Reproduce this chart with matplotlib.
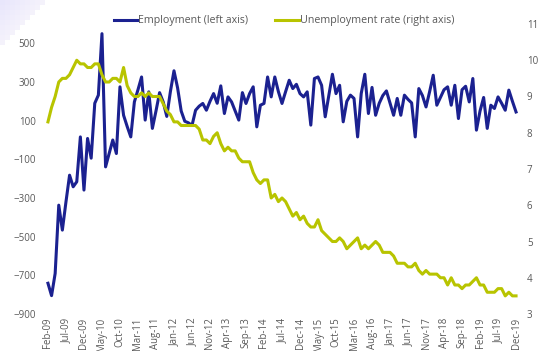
import matplotlib
matplotlib.use("Agg")
import matplotlib.pyplot as plt
import matplotlib.patches as mpatches
from matplotlib.lines import Line2D
import pandas as pd

# monthly, Feb-09 .. Dec-19
months = pd.date_range("2009-02-01", "2019-12-01", freq="MS")
month_labels = [d.strftime("%b-%y") for d in months]

# employment change, thousands (left axis)
employment = [
    -741, -805, -690, -337, -466, -320, -182, -242, -216, 16,
    -259, 8, -94, 190, 232, 550, -139, -70, 0, -70,
    275, 128, 70, 16, 197, 260, 326, 103, 249, 60,
    150, 245, 197, 122, 250, 358, 270, 150, 97, 89,
    75, 154, 175, 189, 154, 200, 240, 190, 280, 137,
    223, 197, 150, 103, 245, 189, 240, 275, 68, 180,
    189, 326, 223, 326, 250, 189, 250, 309, 266, 288,
    240, 223, 249, 77, 318, 326, 283, 120, 230, 340,
    240, 283, 94, 200, 232, 215, 16, 240, 340, 137,
    272, 128, 190, 230, 254, 190, 128, 215, 128, 232,
    210, 192, 16, 266, 230, 171, 250, 335, 180, 220,
    260, 275, 180, 283, 111, 260, 278, 197, 318, 51,
    150, 220, 60, 180, 163, 223, 190, 154, 258, 200,
    145,
]

# unemployment rate, % (right axis)
unemployment = [
    8.3, 8.7, 9.0, 9.4, 9.5, 9.5, 9.6, 9.8, 10.0, 9.9, 9.9,
    9.8, 9.8, 9.9, 9.9, 9.6, 9.4, 9.4, 9.5, 9.5, 9.4, 9.8, 9.3,
    9.1, 9.0, 9.0, 9.1, 9.0, 9.1, 9.0, 9.0, 9.0, 8.8, 8.6, 8.5,
    8.3, 8.3, 8.2, 8.2, 8.2, 8.2, 8.2, 8.1, 7.8, 7.8, 7.7, 7.9,
    8.0, 7.7, 7.5, 7.6, 7.5, 7.5, 7.3, 7.2, 7.2, 7.2, 6.9, 6.7,
    6.6, 6.7, 6.7, 6.2, 6.3, 6.1, 6.2, 6.1, 5.9, 5.7, 5.8, 5.6,
    5.7, 5.5, 5.4, 5.4, 5.6, 5.3, 5.2, 5.1, 5.0, 5.0, 5.1, 5.0,
    4.8, 4.9, 5.0, 5.1, 4.8, 4.9, 4.8, 4.9, 5.0, 4.9, 4.7, 4.7,
    4.7, 4.6, 4.4, 4.4, 4.4, 4.3, 4.3, 4.4, 4.2, 4.1, 4.2, 4.1,
    4.1, 4.1, 4.0, 4.0, 3.8, 4.0, 3.8, 3.8, 3.7, 3.8, 3.8, 3.9,
    4.0, 3.8, 3.8, 3.6, 3.6, 3.6, 3.7, 3.7, 3.5, 3.6, 3.5, 3.5,
]

assert len(employment) == len(months) == len(unemployment)

NAVY = "#1b2190"
LIME = "#b8c400"
GREY = "#595959"
LW = 2.2

plt.rcParams["font.family"] = ["Open Sans", "DejaVu Sans"]

W, H = 539, 351
fig = plt.figure(figsize=(W / 100, H / 100), dpi=100)

# lavender staircase in the top-left corner
step = 5
for row in range(9):
    for col in range(9 - row):
        shade = 0.93 + 0.012 * (row + col) / 2
        fig.patches.append(mpatches.Rectangle(
            (col * step / W, 1 - (row + 1) * step / H), step / W, step / H,
            transform=fig.transFigure, facecolor=(shade - 0.02, shade - 0.03, 0.985),
            edgecolor="none", zorder=0))

ax = fig.add_axes([44 / W, 37 / H, 476 / W, 290 / H])
ax2 = ax.twinx()
x = list(range(len(months)))

ax.plot(x, employment, color=NAVY, linewidth=LW, solid_joinstyle="round")
ax2.plot(x, unemployment, color=LIME, linewidth=LW, solid_joinstyle="round")

ax.set_xlim(-1.1, len(months) - 1 + 1.1)
ax.set_ylim(-900, 600)
ax.set_yticks(range(-900, 600, 200))
ax2.set_ylim(3, 11)
ax2.set_yticks(range(3, 12))

ax.set_xticks(x[::5])
ax.set_xticklabels(month_labels[::5], rotation=90, va="top", ha="center")

for a in (ax, ax2):
    for s in a.spines.values():
        s.set_visible(False)
    a.tick_params(length=0, colors=GREY, labelsize=7)
ax.tick_params(axis="y", pad=6)
ax.tick_params(axis="x", pad=2.5, labelsize=6.9)
ax2.tick_params(axis="y", pad=5)
ax.patch.set_visible(False)

handles = [
    Line2D([], [], color=NAVY, linewidth=LW, label="Employment (left axis)"),
    Line2D([], [], color=LIME, linewidth=LW, label="Unemployment rate (right axis)"),
]
fig.legend(handles=handles, loc="center", bbox_to_anchor=(284 / W, 1 - 21 / H),
           ncol=2, frameon=False, fontsize=7.7, handlelength=2.2,
           handletextpad=0.1, columnspacing=2.5, labelcolor=GREY)

fig.savefig("out.png", dpi=100)
